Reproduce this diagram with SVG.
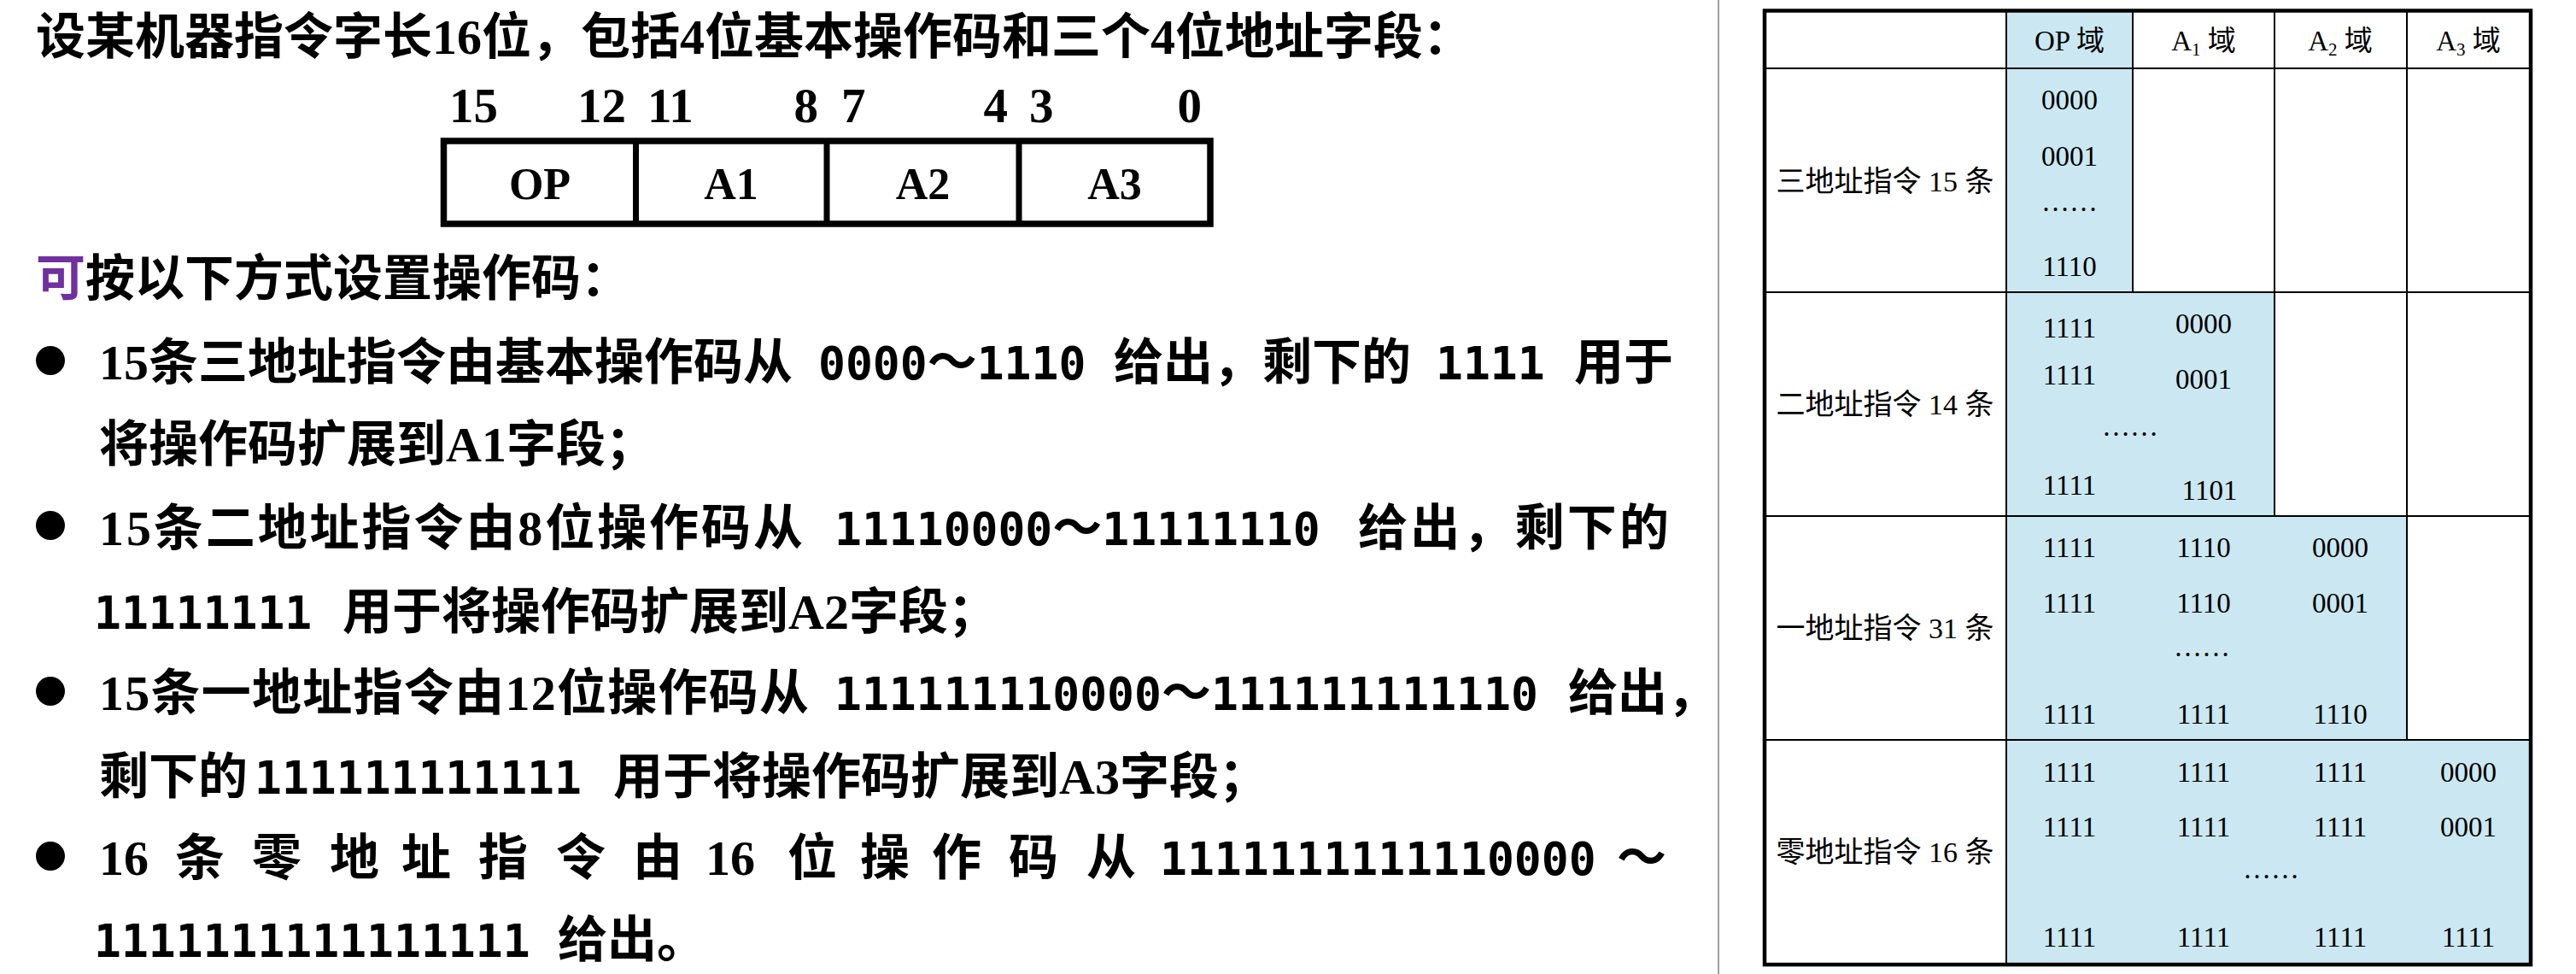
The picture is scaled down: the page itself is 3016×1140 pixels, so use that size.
<svg xmlns="http://www.w3.org/2000/svg" width="3016" height="1140" viewBox="0 0 3016 1140">
<style>
.b{font-family:"Liberation Serif","Noto Sans CJK SC",serif;font-weight:bold;font-size:58px;fill:#000}
.m{font-family:"DejaVu Sans Mono","Liberation Mono",monospace;font-weight:bold;font-size:53px;fill:#000}
.bn{font-family:"Liberation Serif",serif;font-weight:bold;font-size:57px;fill:#000}
.cell{font-family:"Liberation Serif",serif;font-weight:bold;font-size:52px;fill:#000;text-anchor:middle}
.t{font-family:"Liberation Serif","Noto Sans CJK SC",serif;font-size:33px;fill:#000;text-anchor:middle}
.lbl{font-family:"Liberation Serif","Noto Sans CJK SC",serif;font-size:34px;fill:#000;text-anchor:middle}
.sub{font-size:21px}
.blue{fill:#cbe8f2;stroke:none}
.ln{stroke:#000;stroke-width:2;fill:none}
.purple{fill:#7030a0}
</style>

<g id="separator">
<line x1="2012" y1="0" x2="2012" y2="1140" stroke="#a0a0a0" stroke-width="2"/>
</g>

<g id="title">
<text class="b" x="42" y="63">设某机器指令字长16位，包括4位基本操作码和三个4位地址字段：</text>
</g>

<g id="bit-numbers">
<text class="bn" x="526" y="143">15</text>
<text class="bn" x="733" y="143" text-anchor="end">12</text>
<text class="bn" x="758" y="143">11</text>
<text class="bn" x="958" y="143" text-anchor="end">8</text>
<text class="bn" x="985" y="143">7</text>
<text class="bn" x="1180" y="143" text-anchor="end">4</text>
<text class="bn" x="1205" y="143">3</text>
<text class="bn" x="1407" y="143" text-anchor="end">0</text>
</g>

<g id="format-box">
<rect x="519.5" y="165" width="897.5" height="97" fill="#fff" stroke="#000" stroke-width="7.5"/>
<line x1="744.5" y1="165" x2="744.5" y2="262" stroke="#000" stroke-width="7"/>
<line x1="968" y1="165" x2="968" y2="262" stroke="#000" stroke-width="7"/>
<line x1="1193" y1="165" x2="1193" y2="262" stroke="#000" stroke-width="7"/>
<text class="cell" x="632" y="233">OP</text>
<text class="cell" x="856" y="233">A1</text>
<text class="cell" x="1080.5" y="233">A2</text>
<text class="cell" x="1305" y="233">A3</text>
</g>

<g id="intro">
<text class="b" x="42" y="346"><tspan class="purple">可</tspan>按以下方式设置操作码：</text>
</g>

<g id="bullets">
<circle cx="59" cy="422" r="17" fill="#000"/>
<circle cx="59" cy="615" r="17" fill="#000"/>
<circle cx="59" cy="809" r="17" fill="#000"/>
<circle cx="59" cy="1002" r="17" fill="#000"/>
</g>

<g id="item1">
<text class="b" x="116" y="444">15条三地址指令由基本操作码从</text>
<text class="b" y="444"><tspan x="958" class="m">0000</tspan><tspan>～</tspan><tspan class="m">1110</tspan></text>
<text class="b" x="1304" y="444">给出，剩下的</text>
<text class="m" x="1681" y="444">1111</text>
<text class="b" x="1843" y="444">用于</text>
<text class="b" x="116" y="540">将操作码扩展到A1字段；</text>
</g>

<g id="item2">
<text class="b" x="116" y="638" textLength="824">15条二地址指令由8位操作码从</text>
<text class="b" y="638"><tspan x="977" class="m">11110000</tspan><tspan>～</tspan><tspan class="m">11111110</tspan></text>
<text class="b" x="1590" y="638" textLength="364">给出，剩下的</text>
<text class="m" x="110" y="736">11111111</text>
<text class="b" x="401" y="736">用于将操作码扩展到A2字段；</text>
</g>

<g id="item3">
<text class="b" x="116" y="831" textLength="831">15条一地址指令由12位操作码从</text>
<text class="b" y="831"><tspan x="977" class="m">111111110000</tspan><tspan>～</tspan><tspan class="m">111111111110</tspan></text>
<text class="b" x="1836" y="831">给出，</text>
<text class="b" x="116" y="929">剩下的</text>
<text class="m" x="298" y="929">111111111111</text>
<text class="b" x="718" y="929">用于将操作码扩展到A3字段；</text>
</g>

<g id="item4">
<text class="b" y="1024"><tspan x="116">16</tspan><tspan x="205">条</tspan><tspan x="295">零</tspan><tspan x="386">地</tspan><tspan x="470">址</tspan><tspan x="560">指</tspan><tspan x="651">令</tspan><tspan x="741">由</tspan><tspan x="826">16</tspan><tspan x="922">位</tspan><tspan x="1007">操</tspan><tspan x="1091">作</tspan><tspan x="1181">码</tspan><tspan x="1272">从</tspan></text>
<text class="m" x="1358" y="1024">1111111111110000</text>
<text class="b" x="1893" y="1024">～</text>
<text class="m" x="110" y="1120">1111111111111111</text>
<text class="b" x="653" y="1120">给出。</text>
</g>

<g id="table">
<rect class="blue" x="2349" y="12.5" width="148" height="329.5"/>
<rect class="blue" x="2349" y="342" width="314" height="262"/>
<rect class="blue" x="2349" y="604" width="469" height="262"/>
<rect class="blue" x="2349" y="866" width="614" height="263"/>
<line class="ln" x1="2066" y1="80" x2="2963" y2="80"/>
<line class="ln" x1="2066" y1="342" x2="2963" y2="342"/>
<line class="ln" x1="2066" y1="604" x2="2963" y2="604"/>
<line class="ln" x1="2066" y1="866" x2="2963" y2="866"/>
<line class="ln" x1="2349" y1="12.5" x2="2349" y2="1129"/>
<line class="ln" x1="2497" y1="12.5" x2="2497" y2="342"/>
<line class="ln" x1="2663" y1="12.5" x2="2663" y2="604"/>
<line class="ln" x1="2818" y1="12.5" x2="2818" y2="866"/>
<rect x="2066" y="12.5" width="897" height="1116.5" fill="none" stroke="#000" stroke-width="4.5"/>

<text class="t" x="2423" y="59">OP 域</text>
<text class="t" x="2580" y="59">A<tspan class="sub" dy="6">1</tspan><tspan dy="-6"> 域</tspan></text>
<text class="t" x="2740" y="59">A<tspan class="sub" dy="6">2</tspan><tspan dy="-6"> 域</tspan></text>
<text class="t" x="2890" y="59">A<tspan class="sub" dy="6">3</tspan><tspan dy="-6"> 域</tspan></text>

<text class="lbl" x="2207" y="224">三地址指令 15 条</text>
<text class="lbl" x="2207" y="485">二地址指令 14 条</text>
<text class="lbl" x="2207" y="747">一地址指令 31 条</text>
<text class="lbl" x="2207" y="1009">零地址指令 16 条</text>

<text class="t" x="2423" y="128">0000</text>
<text class="t" x="2423" y="194">0001</text>
<text class="t" x="2423" y="247">……</text>
<text class="t" x="2423" y="323">1110</text>

<text class="t" x="2423" y="395">1111</text>
<text class="t" x="2580" y="390">0000</text>
<text class="t" x="2423" y="450">1111</text>
<text class="t" x="2580" y="455">0001</text>
<text class="t" x="2494" y="510">……</text>
<text class="t" x="2423" y="579">1111</text>
<text class="t" x="2587" y="585">1101</text>

<text class="t" x="2423" y="652">1111</text>
<text class="t" x="2580" y="652">1110</text>
<text class="t" x="2740" y="652">0000</text>
<text class="t" x="2423" y="717">1111</text>
<text class="t" x="2580" y="717">1110</text>
<text class="t" x="2740" y="717">0001</text>
<text class="t" x="2578" y="768">……</text>
<text class="t" x="2423" y="847">1111</text>
<text class="t" x="2580" y="847">1111</text>
<text class="t" x="2740" y="847">1110</text>

<text class="t" x="2423" y="915">1111</text>
<text class="t" x="2580" y="915">1111</text>
<text class="t" x="2740" y="915">1111</text>
<text class="t" x="2890" y="915">0000</text>
<text class="t" x="2423" y="979">1111</text>
<text class="t" x="2580" y="979">1111</text>
<text class="t" x="2740" y="979">1111</text>
<text class="t" x="2890" y="979">0001</text>
<text class="t" x="2659" y="1028">……</text>
<text class="t" x="2423" y="1108">1111</text>
<text class="t" x="2580" y="1108">1111</text>
<text class="t" x="2740" y="1108">1111</text>
<text class="t" x="2890" y="1108">1111</text>
</g>

<g id="connectors"></g>
</svg>
